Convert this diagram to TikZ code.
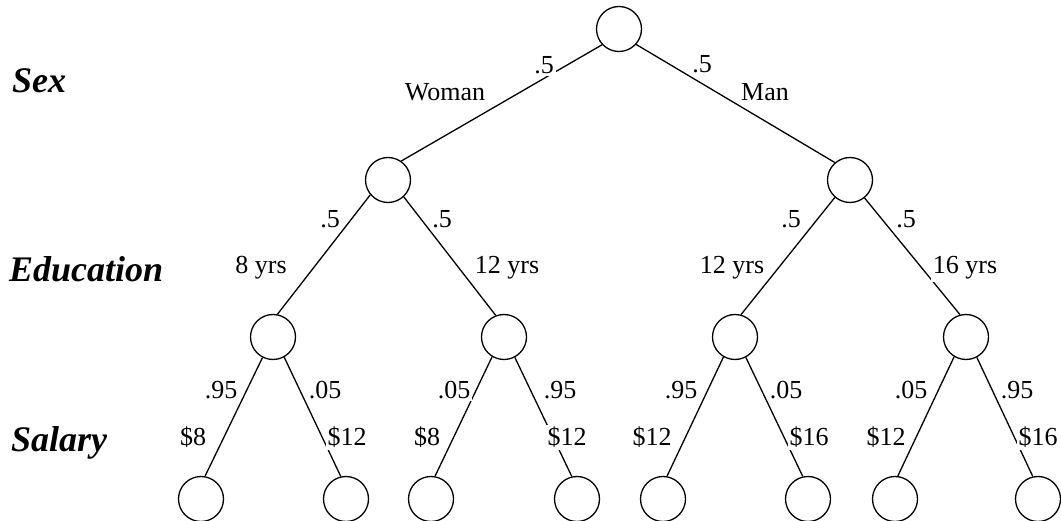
\documentclass[tikz,border=0pt]{standalone}
\usepackage{fontspec}
\setmainfont{Liberation Serif}
\begin{document}
\begin{tikzpicture}[x=1pt, y=-1pt,
  chance/.style={draw, circle, minimum size=45pt, inner sep=0pt, line width=1.3pt},
  branch/.style={line width=1.3pt},
  lbl/.style={font=\fontsize{26}{30}\selectfont, anchor=base, inner sep=2pt, fill=white},
  levelname/.style={font=\fontsize{36}{40}\selectfont\bfseries\itshape, anchor=base west, inner sep=0pt}]
\useasboundingbox (0,0) rectangle (1061,521);

% chance nodes
\node[chance] (r)   at (619,29)  {};
\node[chance] (w)   at (388,180) {};
\node[chance] (m)   at (850,180) {};
\node[chance] (w8)  at (273,337) {};
\node[chance] (w12) at (504,337) {};
\node[chance] (m12) at (735,337) {};
\node[chance] (m16) at (966,337) {};
\node[chance] (l1) at (201,499)  {};
\node[chance] (l2) at (346,499)  {};
\node[chance] (l3) at (431,499)  {};
\node[chance] (l4) at (577,499)  {};
\node[chance] (l5) at (663,499)  {};
\node[chance] (l6) at (808,499)  {};
\node[chance] (l7) at (895,499)  {};
\node[chance] (l8) at (1038,499) {};

% branches, boundary to boundary
\draw[branch] (r.223) -- (w.55);
\draw[branch] (r.318) -- (m.131);
\draw[branch] (w.220) -- (w8.79);
\draw[branch] (w.313) -- (w12.111);
\draw[branch] (m.229) -- (m12.75);
\draw[branch] (m.309) -- (m16.105);
\draw[branch] (w8.243) -- (l1.80);
\draw[branch] (w8.299) -- (l2.103);
\draw[branch] (w12.239) -- (l3.80);
\draw[branch] (w12.298) -- (l4.103);
\draw[branch] (m12.240) -- (l5.80);
\draw[branch] (m12.298) -- (l6.103);
\draw[branch] (m16.239) -- (l7.83);
\draw[branch] (m16.298) -- (l8.103);

% variable names
\node[levelname] (sex) at (12,93)  {Sex};
\node[levelname] (edu) at (9,282)  {Education};
\node[levelname] (sal) at (11,451) {Salary};

% sex branch labels
\node[lbl] (pw) at (544,74)  {.5};
\node[lbl] (tw) at (445,101) {Woman};
\node[lbl] (pm) at (702,73)  {.5};
\node[lbl] (tm) at (765,101) {Man};

% education branch labels
\node[lbl] (p1) at (330,228) {.5};
\node[lbl] (p2) at (442,228) {.5};
\node[lbl] (p3) at (791,228) {.5};
\node[lbl] (p4) at (906,228) {.5};
\node[lbl] (e1) at (261,274) {8 yrs};
\node[lbl] (e2) at (507,274) {12 yrs};
\node[lbl] (e3) at (732,274) {12 yrs};
\node[lbl] (e4) at (965,274) {16 yrs};

% salary branch labels
\node[lbl] (q1) at (221,399) {.95};
\node[lbl] (q2) at (325,399) {.05};
\node[lbl] (q3) at (454,399) {.05};
\node[lbl] (q4) at (560,399) {.95};
\node[lbl] (q5) at (681,399) {.95};
\node[lbl] (q6) at (786,399) {.05};
\node[lbl] (q7) at (911,399) {.05};
\node[lbl] (q8) at (1017,399) {.95};
\node[lbl] (s1) at (193,446) {\$8};
\node[lbl] (s2) at (347,446) {\$12};
\node[lbl] (s3) at (427,446) {\$8};
\node[lbl] (s4) at (567,446) {\$12};
\node[lbl] (s5) at (652,446) {\$12};
\node[lbl] (s6) at (809,446) {\$16};
\node[lbl] (s7) at (886,446) {\$12};
\node[lbl] (s8) at (1038,446) {\$16};
\end{tikzpicture}
\end{document}
